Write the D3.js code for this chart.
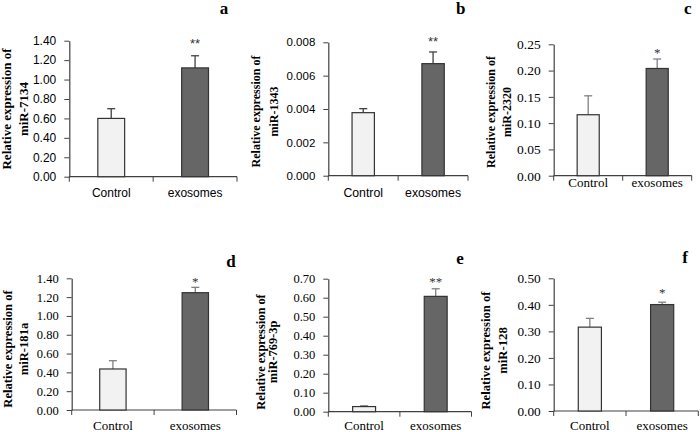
<!DOCTYPE html>
<html><head><meta charset="utf-8">
<script src="https://cdn.jsdelivr.net/npm/d3@7"></script>
<style>html,body{margin:0;padding:0;background:#fff;}svg{display:block;}</style>
</head><body>
<svg id="chart" width="700" height="432"></svg>
<script>
// ---- data ----
const panelLetters = ["a","b","c","d","e","f"];
const genes = ["miR-7134","miR-1343","miR-2320","miR-181a","miR-769-3p","miR-128"];
const categories = ["Control","exosomes"];
const controlMean = [0.60, 0.00378, 0.116, 0.436, 0.027, 0.316];
const controlErr  = [0.10, 0.00024, 0.036, 0.088, 0.004, 0.033];
const exoMean     = [1.12, 0.00672, 0.204, 1.247, 0.607, 0.401];
const exoErr      = [0.125, 0.0007, 0.018, 0.057, 0.040, 0.009];
const yMax        = [1.4, 0.008, 0.25, 1.4, 0.7, 0.5];
const yStep       = [0.2, 0.002, 0.05, 0.2, 0.1, 0.1];
const tickDecimals= [2, 3, 2, 2, 2, 2];
const significance= ["**","**","*","*","**","*"];

// ---- layout (positions & styles) ----
const SANS = "Liberation Sans, Arial, sans-serif";
const SERIF = "Liberation Serif, Times New Roman, Times, serif";
const layout = [
  {x0:69.3, x1:237, yT:40.7, yB:176.7, font:SANS, tickFs:12, xFs:12, xOff:16.3, lab:[6.6,23], labY:109, labFs:13, letter:[224,8], starGap:7.7, errCol:"#404040"},
  {x0:328.3, x1:468, yT:42.3, yB:175.7, font:SANS, tickFs:11.5, xFs:12.3, xOff:17, lab:[256,274.3], labY:111.5, labFs:12, letter:[460.7,8], starGap:5.7, errCol:"#404040"},
  {x0:553.7, x1:691.7, yT:44.3, yB:175.7, font:SERIF, tickFs:13.5, xFs:13, xOff:6.5, lab:[491,507.3], labY:112, labFs:12, letter:[687.7,8], starGap:2, errCol:"#808080"},
  {x0:71.7, x1:236.5, yT:278.3, yB:410, font:SERIF, tickFs:12.5, xFs:13, xOff:15.7, lab:[7.9,24.3], labY:349, labFs:12.6, letter:[231,260.7], starGap:1.3, errCol:"#808080"},
  {x0:328.3, x1:471.5, yT:278.7, yB:411.7, font:SERIF, tickFs:12.5, xFs:13, xOff:14, lab:[261.2,272.8], labY:352, labFs:12.4, letter:[460,258.3], starGap:3, errCol:"#808080"},
  {x0:553.7, x1:698.3, yT:278.3, yB:411, font:SERIF, tickFs:13.3, xFs:13, xOff:14.7, lab:[486.2,502.6], labY:350.5, labFs:12.7, letter:[685,257.3], starGap:5.3, errCol:"#808080"}
];
const fills = ["#f2f2f2", "#666666"];
const axisCol = "#404040";

const svg = d3.select("#chart");

panelLetters.forEach((letter, i) => {
  const L = layout[i];
  const g = svg.append("g");
  const x = d3.scaleBand().domain(categories).range([L.x0, L.x1]).paddingInner(0.68).paddingOuter(0.34);
  const y = d3.scaleLinear().domain([0, yMax[i]]).range([L.yB, L.yT]);
  const ticks = d3.range(0, Math.round(yMax[i]/yStep[i]) + 1).map(k => k*yStep[i]);

  // y axis
  const yAxis = d3.axisLeft(y).tickValues(ticks).tickFormat(d3.format("." + tickDecimals[i] + "f")).tickSize(5).tickPadding(8).tickSizeOuter(0);
  const ya = g.append("g").attr("transform", `translate(${L.x0},0)`).call(yAxis)
    .attr("font-family", L.font).attr("font-size", L.tickFs);
  ya.select(".domain").attr("stroke", axisCol).attr("stroke-width", 1.2);
  ya.selectAll(".tick line").attr("stroke", axisCol);
  ya.selectAll(".tick text").attr("fill", "#000").style("font-family", L.font).style("font-size", L.tickFs + "px");

  // x axis line + ticks at band boundaries
  g.append("line").attr("x1", L.x0).attr("x2", L.x1).attr("y1", L.yB).attr("y2", L.yB).attr("stroke", axisCol).attr("stroke-width", 1.2);
  const step = x.step();
  [0,1,2].forEach(k => {
    const tx = L.x0 + k*step;
    g.append("line").attr("x1", tx).attr("x2", tx).attr("y1", L.yB).attr("y2", L.yB+5).attr("stroke", axisCol);
  });
  categories.forEach(c => {
    g.append("text").attr("x", x(c) + x.bandwidth()/2).attr("y", L.yB + L.xOff).attr("dy", "0.35em")
      .attr("text-anchor", "middle").style("font-family", L.font).style("font-size", L.xFs + "px").text(c);
  });

  const means = [controlMean[i], exoMean[i]];
  const errs = [controlErr[i], exoErr[i]];
  // error bars (upper only)
  categories.forEach((c, j) => {
    const cx = x(c) + x.bandwidth()/2;
    g.append("line").attr("x1", cx).attr("x2", cx).attr("y1", y(means[j])).attr("y2", y(means[j] + errs[j])).attr("stroke", L.errCol).attr("stroke-width", 1.3);
    g.append("line").attr("x1", cx-4).attr("x2", cx+4).attr("y1", y(means[j] + errs[j])).attr("y2", y(means[j] + errs[j])).attr("stroke", L.errCol).attr("stroke-width", 1.3);
  });
  // bars
  g.selectAll("rect.bar").data(categories).join("rect").attr("class","bar")
    .attr("x", c => x(c)).attr("width", x.bandwidth())
    .attr("y", (c, j) => y(means[j])).attr("height", (c, j) => L.yB - y(means[j]))
    .attr("fill", (c, j) => fills[j]).attr("stroke", "#333").attr("stroke-width", 1.2);

  // significance stars
  const ec = x(categories[1]) + x.bandwidth()/2;
  g.append("text").attr("x", ec).attr("y", y(exoMean[i] + exoErr[i]) - L.starGap)
    .attr("text-anchor", "middle").style("font-family", L.font).style("font-size", "13px").attr("fill", "#333")
    .text(significance[i]);

  // y label (two lines, rotated)
  const lines = ["Relative expression of", genes[i]];
  lines.forEach((t, k) => {
    g.append("text").attr("transform", `translate(${L.lab[k]},${L.labY}) rotate(-90)`)
      .attr("text-anchor", "middle").attr("dominant-baseline", "central")
      .style("font-family", SERIF).style("font-weight", "bold").style("font-size", L.labFs + "px").text(t);
  });

  // panel letter
  g.append("text").attr("x", L.letter[0]).attr("y", L.letter[1]).attr("dy", "0.35em").attr("text-anchor", "middle")
    .style("font-family", SERIF).style("font-weight", "bold").style("font-size", "17px").text(letter);
});
</script>
</body></html>
